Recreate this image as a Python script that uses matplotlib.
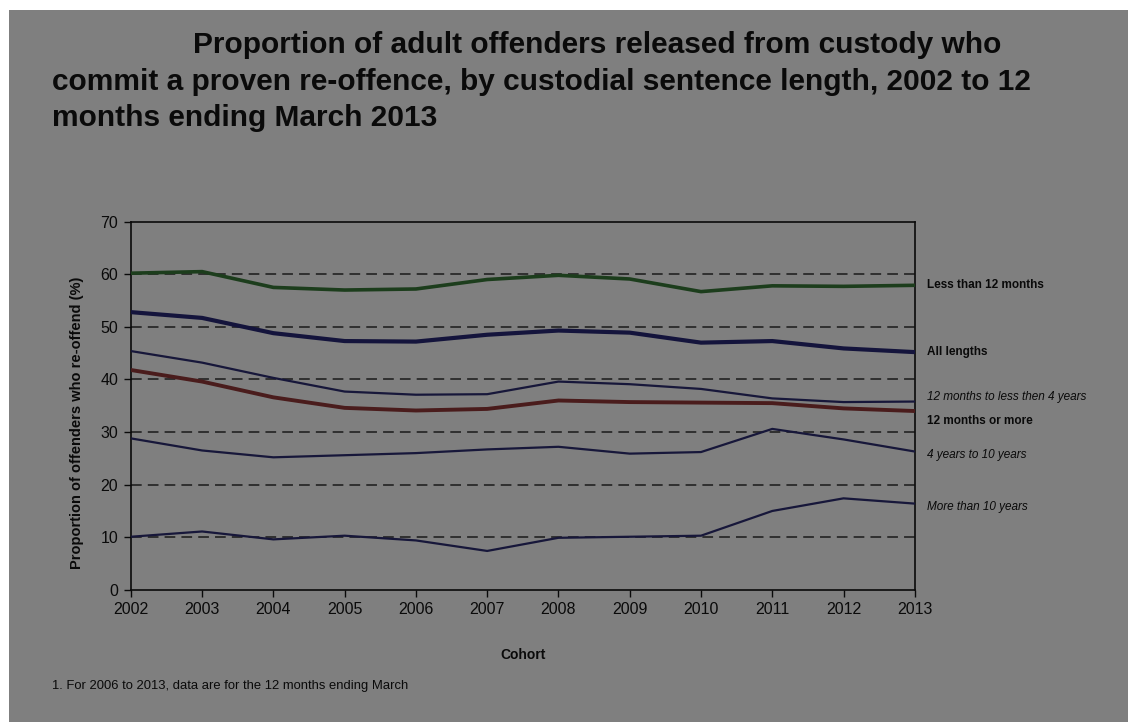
import matplotlib.pyplot as plt
from matplotlib.patches import Rectangle

# cohort years and re-offending rates (%)
years = [2002, 2003, 2004, 2005, 2006, 2007, 2008, 2009, 2010, 2011, 2012, 2013]
less_12m = [60.2, 60.5, 57.5, 57.0, 57.2, 59.0, 59.8, 59.1, 56.7, 57.8, 57.7, 57.9]
all_lengths = [52.8, 51.7, 48.8, 47.3, 47.2, 48.5, 49.3, 48.9, 47.0, 47.3, 45.9, 45.2]
m12_to_4y = [45.4, 43.2, 40.3, 37.7, 37.1, 37.2, 39.6, 39.1, 38.2, 36.4, 35.7, 35.8]
m12_or_more = [41.8, 39.6, 36.6, 34.6, 34.1, 34.4, 36.0, 35.7, 35.6, 35.5, 34.5, 34.0]
y4_to_10 = [28.8, 26.5, 25.2, 25.6, 26.0, 26.7, 27.2, 25.9, 26.2, 30.6, 28.6, 26.3]
more_10y = [10.1, 11.1, 9.6, 10.3, 9.4, 7.4, 9.9, 10.1, 10.3, 15.0, 17.4, 16.4]

plt.rcParams['font.family'] = ['Liberation Sans', 'DejaVu Sans']

bg = '#7f7f7f'
ink = '#0a0a0a'
fig = plt.figure(figsize=(11.28, 7.22), dpi=100, facecolor='white')
fig.patches.append(Rectangle((9/1128, 0), 1, 1 - 10/722, transform=fig.transFigure,
                             facecolor=bg, edgecolor='none', zorder=-10))

ax = fig.add_axes([0.116, 0.183, 0.695, 0.510])
ax.set_facecolor(bg)

# (values, colour, width, label, bold, italic, label offset in points)
series = [
    (less_12m, '#1c3d1c', 2.6, 'Less than 12 months', 'bold', 'normal', 0),
    (all_lengths, '#14143c', 3.0, 'All lengths', 'bold', 'normal', 0),
    (m12_to_4y, '#17173a', 1.6, '12 months to less then 4 years', 'normal', 'italic', 3.4),
    (m12_or_more, '#4a1c1c', 2.8, '12 months or more', 'bold', 'normal', -7),
    (y4_to_10, '#17173a', 1.6, '4 years to 10 years', 'normal', 'italic', -2.3),
    (more_10y, '#17173a', 1.6, 'More than 10 years', 'normal', 'italic', -2.3),
]

for vals, col, lw, lab, wt, st, off in series:
    ax.plot(years, vals, color=col, lw=lw, zorder=3)
    ax.annotate(lab, xy=(years[-1], vals[-1]), xytext=(9, off), textcoords='offset points',
                va='center', ha='left', fontsize=8.5, fontweight=wt, fontstyle=st,
                color=ink, annotation_clip=False)

for v in range(10, 70, 10):
    ax.axhline(v, color='#1a1a1a', lw=1.1, ls=(0, (7, 4)), zorder=1)

ax.set_xlim(2002, 2013)
ax.set_ylim(0, 70)
ax.set_xticks(years)
ax.set_yticks(range(0, 71, 10))
ax.tick_params(direction='out', length=5, width=1, labelsize=11.5, colors=ink, pad=4)
for s in ax.spines.values():
    s.set_color(ink)
    s.set_linewidth(1.2)

ax.set_ylabel('Proportion of offenders who re-offend (%)', fontsize=10.5, fontweight='bold',
              color=ink)
ax.yaxis.set_label_coords(-0.06, 0.455)
ax.set_xlabel('Cohort', fontsize=10, fontweight='bold', color=ink, labelpad=22)

title_lines = ['Proportion of adult offenders released from custody who',
               'commit a proven re-offence, by custodial sentence length, 2002 to 12',
               'months ending March 2013']
fig.text(193/1128, 1 - 45/722, title_lines[0], fontsize=21.5, fontweight='bold', color=ink, va='center')
fig.text(52/1128, 1 - 82/722, title_lines[1], fontsize=21.5, fontweight='bold', color=ink, va='center')
fig.text(52/1128, 1 - 118/722, title_lines[2], fontsize=21.5, fontweight='bold', color=ink, va='center')

fig.text(52/1128, 1 - 686/722, '1. For 2006 to 2013, data are for the 12 months ending March',
         fontsize=9.4, color=ink, va='center')

fig.savefig('out.png', dpi=100, facecolor=fig.get_facecolor())
